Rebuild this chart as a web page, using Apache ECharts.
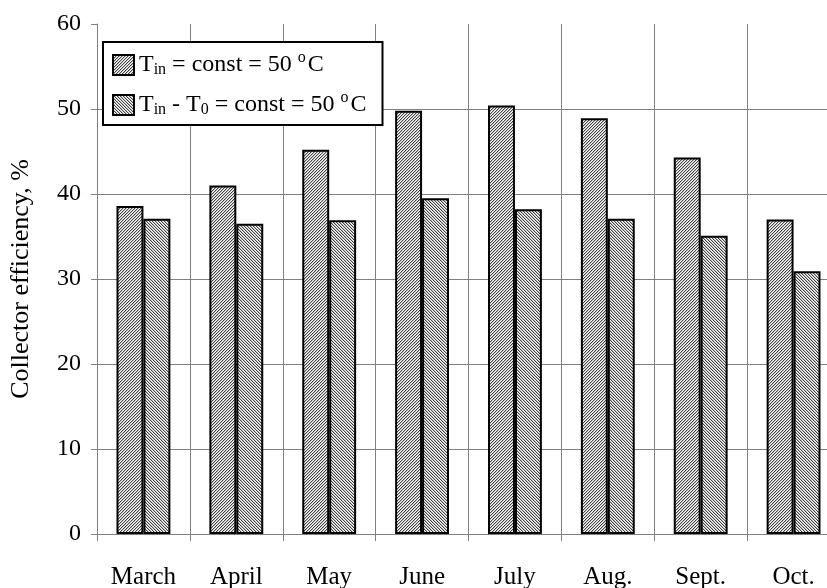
<!DOCTYPE html>
<html>
<head>
<meta charset="utf-8">
<script src="https://cdn.jsdelivr.net/npm/echarts@6/dist/echarts.min.js"></script>
<style>html,body{margin:0;padding:0;background:#fff}#c{width:827px;height:588px}</style>
</head>
<body>
<div id="c"></div>
<script>
const categories = ['March', 'April', 'May', 'June', 'July', 'Aug.', 'Sept.', 'Oct.'];
const seriesNames = ['Tin = const = 50 oC', 'Tin - T0 = const = 50 oC'];
const tinConst = [38.6, 41.0, 45.2, 49.8, 50.4, 48.9, 44.3, 37.0];
const deltaConst = [37.1, 36.5, 36.9, 39.5, 38.2, 37.1, 35.1, 30.9];
const yTicks = [0, 10, 20, 30, 40, 50, 60];

function makePattern(dir) {
  const c = document.createElement('canvas');
  c.width = 3; c.height = 3;
  const ctx = c.getContext('2d');
  ctx.fillStyle = '#ffffff';
  ctx.fillRect(0, 0, 3, 3);
  for (let x = 0; x < 3; x++) for (let y = 0; y < 3; y++) {
    const v = dir > 0 ? (x + y) % 3 : (x - y + 6) % 3;
    if (v === 0) { ctx.fillStyle = '#444444'; ctx.fillRect(x, y, 1, 1); }
    else if (v === 1) { ctx.fillStyle = '#bdbdbd'; ctx.fillRect(x, y, 1, 1); }
  }
  return { image: c, repeat: 'repeat' };
}

const FONT = 'Liberation Serif';
const chart = echarts.init(document.getElementById('c'));
const legendRich = {
  m: { fontFamily: FONT, fontSize: 24, color: '#000', lineHeight: 30, verticalAlign: 'middle' },
  s: { fontFamily: FONT, fontSize: 16, color: '#000', lineHeight: 30, verticalAlign: 'bottom', padding: [0, 0, 2, 0] },
  p: { fontFamily: FONT, fontSize: 16, color: '#000', lineHeight: 30, verticalAlign: 'top', padding: [0, 2, 0, 0] }
};
const legendFormat = {};
legendFormat[seriesNames[0]] = '{m|T}{s|in}{m| = const = 50 }{p|o}{m|C}';
legendFormat[seriesNames[1]] = '{m|T}{s|in}{m| - T}{s|0}{m| = const = 50 }{p|o}{m|C}';

chart.setOption({
  animation: false,
  backgroundColor: '#fff',
  grid: { left: 97, top: 24, bottom: 54, right: -13, containLabel: false, outerBoundsMode: 'none' },
  legend: {
    orient: 'vertical', left: 103, top: 42,
    padding: [8, 16, 5, 9], itemGap: 10,
    itemWidth: 21, itemHeight: 20, icon: 'rect',
    borderColor: '#000', borderWidth: 2, backgroundColor: '#fff',
    textStyle: { fontFamily: FONT, fontSize: 24, color: '#000', rich: legendRich },
    formatter: n => legendFormat[n]
  },
  xAxis: {
    type: 'category', data: categories,
    axisLine: { lineStyle: { color: '#808080', width: 1 } },
    axisTick: { show: true, length: 7, lineStyle: { color: '#808080' } },
    splitLine: { show: true, lineStyle: { color: '#808080', width: 1 } },
    axisLabel: { fontFamily: FONT, fontSize: 25, color: '#000', margin: 31 }
  },
  yAxis: {
    type: 'value', min: yTicks[0], max: yTicks[yTicks.length - 1], interval: 10,
    name: 'Collector efficiency, %', nameLocation: 'middle', nameGap: 63,
    nameTextStyle: { fontFamily: FONT, fontSize: 26, color: '#000' },
    axisLine: { show: true, lineStyle: { color: '#808080', width: 1 } },
    axisTick: { show: true, length: 6, lineStyle: { color: '#808080' } },
    splitLine: { show: true, lineStyle: { color: ['#808080', '#808080', '#808080', '#808080', '#808080', '#808080', 'rgba(0,0,0,0)'], width: 1 } },
    axisLabel: { fontFamily: FONT, fontSize: 24, color: '#000', margin: 16 }
  },
  series: [
    { name: seriesNames[0], type: 'bar', data: tinConst, barGap: '0%', barCategoryGap: '42%',
      itemStyle: { color: makePattern(1), borderColor: '#000', borderWidth: 2 } },
    { name: seriesNames[1], type: 'bar', data: deltaConst, barGap: '0%', barCategoryGap: '42%',
      itemStyle: { color: makePattern(-1), borderColor: '#000', borderWidth: 2 } }
  ]
});
</script>
</body>
</html>
